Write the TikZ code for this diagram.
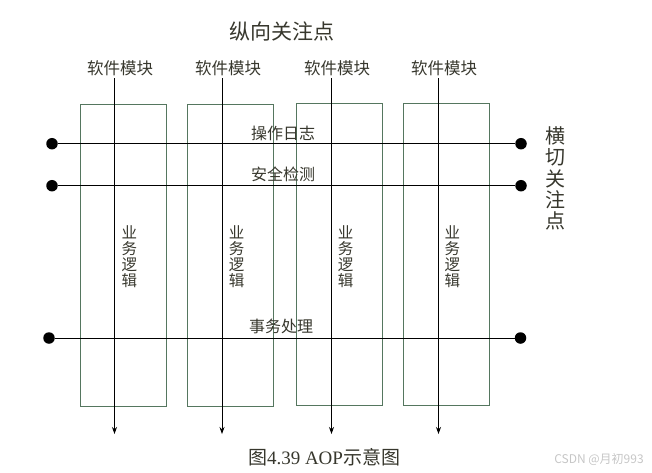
\documentclass[tikz,border=0pt]{standalone}
\usepackage{fontspec}
\setmainfont{Liberation Serif}
\newfontfamily\cjk{Noto Sans CJK SC}
\usepackage{tikz}
\usetikzlibrary{arrows.meta, positioning}
\definecolor{boxline}{RGB}{85, 118, 95}
\definecolor{inktext}{RGB}{55, 55, 45}

\begin{document}
\begin{tikzpicture}[
    x=1pt, y=-1pt,
    module/.style={rectangle, draw=boxline, line width=0.9pt, minimum width=86pt, minimum height=302pt, inner sep=0pt},
    modlabel/.style={text=inktext, font=\cjk\fontsize{16.5}{18}\selectfont, inner sep=0pt},
    vlabel/.style={text=inktext, align=center, font=\cjk\fontsize{15.5}{16}\selectfont, inner sep=0pt},
    cutlabel/.style={text=inktext, font=\cjk\fontsize{16}{18}\selectfont, inner sep=0pt},
    dot/.style={circle, fill=black, minimum size=11.5pt, inner sep=0pt},
    flow/.style={-{Stealth[length=7pt, width=5pt]}, line width=0.8pt},
    cut/.style={line width=1pt}
]
    \useasboundingbox (0,0) rectangle (652,472);

    % titles
    \node[text=inktext, font=\cjk\fontsize{21}{24}\selectfont, inner sep=0pt] (vtitle) at (281.5,31) {纵向关注点};
    \node[text=inktext, align=center, font=\cjk\fontsize{20}{21.3}\selectfont, inner sep=0pt] (htitle) at (555,178.5) {横\\切\\关\\注\\点};

    % software modules
    \node[module] (box1) at (123.25,255.25) {};
    \node[module] (box2) at (230.25,255.25) {};
    \node[module] (box3) at (339.5,254.25) {};
    \node[module] (box4) at (446.5,254.25) {};

    \node[modlabel] (mod1) at (120,68) {软件模块};
    \node[modlabel] (mod2) at (228,68) {软件模块};
    \node[modlabel] (mod3) at (337,68) {软件模块};
    \node[modlabel] (mod4) at (444,68) {软件模块};

    \node[vlabel] (biz1) at (129.3,256.5) {业\\务\\逻\\辑};
    \node[vlabel] (biz2) at (236.7,256.5) {业\\务\\逻\\辑};
    \node[vlabel] (biz3) at (345.7,256.5) {业\\务\\逻\\辑};
    \node[vlabel] (biz4) at (452.3,256.5) {业\\务\\逻\\辑};

    % vertical flows
    \coordinate (top1) at (114.5,78);  \coordinate (end1) at (114.5,434);
    \coordinate (top2) at (222,78);    \coordinate (end2) at (222,434);
    \coordinate (top3) at (331.5,78);  \coordinate (end3) at (331.5,434);
    \coordinate (top4) at (438.5,78);  \coordinate (end4) at (438.5,434);
    \draw[flow] (top1) -- (end1);
    \draw[flow] (top2) -- (end2);
    \draw[flow] (top3) -- (end3);
    \draw[flow] (top4) -- (end4);

    % crosscutting concerns
    \node[dot] (logL) at (52,143.7) {};
    \node[dot] (logR) at (521,143.7) {};
    \node[dot] (secL) at (52,185.7) {};
    \node[dot] (secR) at (521,185.7) {};
    \node[dot] (txL) at (49,338) {};
    \node[dot] (txR) at (520.5,338) {};
    \draw[cut] (logL) -- (logR);
    \draw[cut] (secL) -- (secR);
    \draw[cut] (txL) -- (txR);

    \node[cutlabel] (log) at (283,133) {操作日志};
    \node[cutlabel] (sec) at (283,174) {安全检测};
    \node[cutlabel] (tx) at (281,326) {事务处理};

    % caption
    \node[text=inktext, font=\fontsize{19}{22}\selectfont, inner sep=0pt] (caption) at (324,457) {{\cjk 图}4.39 AOP{\cjk 示意图}};
    \node[text=gray!45, font=\cjk\fontsize{12}{14}\selectfont, inner sep=0pt] (mark) at (599,459) {CSDN @月初993};
\end{tikzpicture}
\end{document}
